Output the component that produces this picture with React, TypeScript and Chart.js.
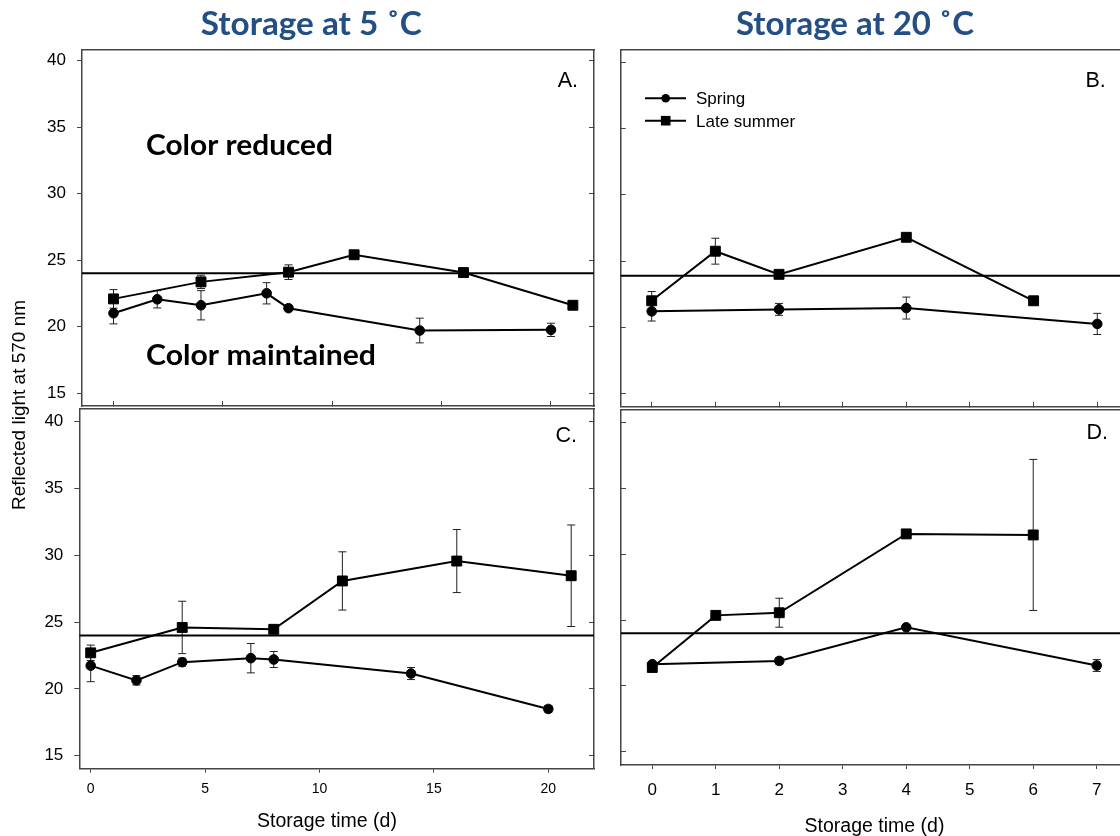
import React, { useEffect, useRef } from "react";
import { Chart, registerables } from "chart.js";

Chart.register(...registerables);

const SANS = "'Liberation Sans', Arial, Helvetica, sans-serif";
const HEAD = "Lato, 'Open Sans', 'Noto Sans', sans-serif";
const HEAD_COLOR = "#234F85";
const AXIS = "#444";

// ---------------- data ----------------
const seriesNames = ["Spring", "Late summer"];
const ticks5C = [0, 5, 10, 15, 20];
const ticks20C = [0, 1, 2, 3, 4, 5, 6, 7];
const yTickValues = [15, 20, 25, 30, 35, 40];
const refLevels = [24.0, 23.9, 24.0, 24.0]; // panels A, B, C, D

// A: storage at 5 C (top)
const aSpringDays = [0, 2, 4, 7, 8, 14, 20];
const aSpring = [21.0, 22.05, 21.6, 22.5, 21.38, 19.7, 19.75];
const aSpringErr = [0.8, 0.65, 1.1, 0.8, 0, 0.93, 0.5];
const aSummerDays = [0, 4, 8, 11, 16, 21];
const aSummer = [22.08, 23.36, 24.09, 25.4, 24.06, 21.6];
const aSummerErr = [0.7, 0.5, 0.55, 0, 0, 0];

// B: storage at 20 C (top)
const bSpringDays = [0, 2, 4, 7];
const bSpring = [21.2, 21.35, 21.45, 20.25];
const bSpringErr = [0.73, 0.45, 0.83, 0.8];
const bSummerDays = [0, 1, 2, 4, 6];
const bSummer = [22.0, 25.75, 24.0, 26.8, 22.0];
const bSummerErr = [0.7, 0.98, 0, 0, 0];

// C: storage at 5 C (bottom)
const cSpringDays = [0, 2, 4, 7, 8, 14, 20];
const cSpring = [21.74, 20.64, 22.0, 22.3, 22.2, 21.15, 18.5];
const cSpringErr = [1.2, 0.35, 0.3, 1.1, 0.6, 0.45, 0.25];
const cSummerDays = [0, 4, 8, 11, 16, 21];
const cSummer = [22.7, 24.6, 24.46, 28.08, 29.57, 28.47];
const cSummerErr = [0.58, 1.96, 0.2, 2.18, 2.36, 3.8];

// D: storage at 20 C (bottom)
const dSpringDays = [0, 2, 4, 7];
const dSpring = [21.65, 21.9, 24.45, 21.55];
const dSpringErr = [0, 0.25, 0.15, 0.45];
const dSummerDays = [0, 1, 2, 4, 6];
const dSummer = [21.4, 25.36, 25.56, 31.55, 31.47];
const dSummerErr = [0, 0, 1.1, 0, 5.74];

// ---------------- layout / specs ----------------
type Txt = {
  text: string;
  x: number;
  y: number;
  font: string;
  color?: string;
  align?: CanvasTextAlign;
  baseline?: CanvasTextBaseline;
  width?: number;
  rotate?: number;
};

type Series = { days: number[]; vals: number[]; errs: number[] };

type Spec = {
  key: string;
  series: Series[];
  ref: number;
  xRange: [number, number];
  yRange: [number, number];
  xTicks: number[];
  pad: { left: number; top: number; right: number; bottom: number };
  yW: number;
  xH: number;
  yLabels: boolean;
  xLabels: boolean;
  rightTicks: boolean;
  xFont: number;
  xPad: number;
  texts: Txt[];
  legend: boolean;
};

const CW = 1140;
const CH = 850;

const specs: Spec[] = [
  {
    key: "A",
    series: [
      { days: aSpringDays, vals: aSpring, errs: aSpringErr },
      { days: aSummerDays, vals: aSummer, errs: aSummerErr },
    ],
    ref: refLevels[0],
    xRange: [-1.44, 21.966],
    yRange: [14.022, 40.805],
    xTicks: ticks5C,
    pad: { left: 0, top: 50, right: CW - 594, bottom: CH - 406 },
    yW: 82,
    xH: 0,
    yLabels: true,
    xLabels: false,
    rightTicks: true,
    xFont: 0,
    xPad: 0,
    legend: false,
    texts: [
      { text: "Storage at 5 ˚C", x: 311.3, y: 35, font: `bold 32px ${HEAD}`, color: HEAD_COLOR, align: "center", width: 221 },
      { text: "Color reduced", x: 146, y: 155, font: `bold 28px ${HEAD}`, width: 187 },
      { text: "Color maintained", x: 146, y: 365, font: `bold 28px ${HEAD}`, width: 230 },
      { text: "A.", x: 578, y: 87, font: `21.5px ${SANS}`, align: "right" },
      { text: "Reflected light at 570 nm", x: 20, y: 405, font: `19px ${SANS}`, align: "center", baseline: "middle", rotate: -Math.PI / 2 },
    ],
  },
  {
    key: "B",
    series: [
      { days: bSpringDays, vals: bSpring, errs: bSpringErr },
      { days: bSummerDays, vals: bSummer, errs: bSummerErr },
    ],
    ref: refLevels[1],
    xRange: [-0.487, 7.42],
    yRange: [13.992, 40.962],
    xTicks: ticks20C,
    pad: { left: 620.7, top: 50, right: CW - 1124, bottom: CH - 406.7 },
    yW: 0,
    xH: 0,
    yLabels: false,
    xLabels: false,
    rightTicks: false,
    xFont: 0,
    xPad: 0,
    legend: true,
    texts: [
      { text: "Storage at 20 ˚C", x: 855, y: 35, font: `bold 32px ${HEAD}`, color: HEAD_COLOR, align: "center", width: 238 },
      { text: "B.", x: 1105.7, y: 87.3, font: `21.5px ${SANS}`, align: "right" },
    ],
  },
  {
    key: "C",
    series: [
      { days: cSpringDays, vals: cSpring, errs: cSpringErr },
      { days: cSummerDays, vals: cSummer, errs: cSummerErr },
    ],
    ref: refLevels[2],
    xRange: [-0.498, 21.997],
    yRange: [14.027, 40.973],
    xTicks: ticks5C,
    pad: { left: 0, top: 408.7, right: CW - 594, bottom: 0 },
    yW: 79.3,
    xH: CH - 768.7,
    yLabels: true,
    xLabels: true,
    rightTicks: true,
    xFont: 14,
    xPad: 7.9,
    legend: false,
    texts: [
      { text: "C.", x: 577, y: 442, font: `21.5px ${SANS}`, align: "right" },
      { text: "Storage time (d)", x: 327, y: 826.7, font: `19.5px ${SANS}`, align: "center" },
    ],
  },
  {
    key: "D",
    series: [
      { days: dSpringDays, vals: dSpring, errs: dSpringErr },
      { days: dSummerDays, vals: dSummer, errs: dSummerErr },
    ],
    ref: refLevels[3],
    xRange: [-0.493, 7.43],
    yRange: [13.99, 40.965],
    xTicks: ticks20C,
    pad: { left: 621, top: 410, right: CW - 1124, bottom: 0 },
    yW: 0,
    xH: CH - 765,
    yLabels: false,
    xLabels: true,
    rightTicks: false,
    xFont: 17,
    xPad: 11.1,
    legend: false,
    texts: [
      { text: "D.", x: 1108, y: 438.5, font: `21.5px ${SANS}`, align: "right" },
      { text: "Storage time (d)", x: 874.5, y: 832, font: `19.5px ${SANS}`, align: "center" },
    ],
  },
];

// ---------------- helpers ----------------
const fixW = (w: number) => (s: any) => {
  s.width = w;
  s.paddingTop = 0;
  s.paddingBottom = 0;
  s.paddingLeft = 0;
  s.paddingRight = 0;
};
const fixH = (h: number) => (s: any) => {
  s.height = h;
  s.paddingTop = 0;
  s.paddingBottom = 0;
  s.paddingLeft = 0;
  s.paddingRight = 0;
};
const setTicks = (vals: number[]) => (s: any) => {
  s.ticks = vals.map((v) => ({ value: v }));
};

function drawTxt(ctx: CanvasRenderingContext2D, t: Txt) {
  ctx.save();
  ctx.font = t.font;
  ctx.fillStyle = t.color || "#000";
  ctx.textBaseline = t.baseline || "alphabetic";
  ctx.textAlign = t.align || "left";
  ctx.translate(t.x, t.y);
  if (t.rotate) ctx.rotate(t.rotate);
  if (t.width) {
    const w = ctx.measureText(t.text).width;
    if (w > 0) ctx.scale(t.width / w, 1);
  }
  ctx.fillText(t.text, 0, 0);
  ctx.restore();
}

function drawMarker(ctx: CanvasRenderingContext2D, style: string, x: number, y: number, r: number) {
  ctx.beginPath();
  if (style === "rect") {
    const h = Math.SQRT1_2 * r;
    ctx.rect(x - h, y - h, 2 * h, 2 * h);
  } else {
    ctx.arc(x, y, r, 0, Math.PI * 2);
  }
  ctx.fill();
}

const POINT_STYLES = ["circle", "rect"];
const POINT_RADII = [4.8, 7];

function decorPlugin(spec: Spec) {
  return {
    id: "decor" + spec.key,
    beforeDatasetsDraw(chart: any) {
      const ctx: CanvasRenderingContext2D = chart.ctx;
      const ys = chart.scales.y;
      const a = chart.chartArea;
      ctx.save();
      ctx.beginPath();
      ctx.rect(a.left, a.top, a.right - a.left, a.bottom - a.top);
      ctx.clip();
      ctx.strokeStyle = "#222";
      ctx.lineWidth = 1;
      spec.series.forEach((s, di) => {
        const meta = chart.getDatasetMeta(di);
        meta.data.forEach((pt: any, j: number) => {
          const e = s.errs[j];
          if (!e) return;
          const top = ys.getPixelForValue(s.vals[j] + e);
          const bot = ys.getPixelForValue(s.vals[j] - e);
          const x = pt.x;
          ctx.beginPath();
          ctx.moveTo(x, top);
          ctx.lineTo(x, bot);
          ctx.moveTo(x - 4, top);
          ctx.lineTo(x + 4, top);
          ctx.moveTo(x - 4, bot);
          ctx.lineTo(x + 4, bot);
          ctx.stroke();
        });
      });
      ctx.restore();
    },
    afterDraw(chart: any) {
      const ctx: CanvasRenderingContext2D = chart.ctx;
      spec.texts.forEach((t) => drawTxt(ctx, t));
      if (spec.legend) {
        const rows = [98.3, 120.7];
        chart.data.datasets.slice(0, 2).forEach((ds: any, i: number) => {
          const y = rows[i];
          ctx.save();
          ctx.strokeStyle = "#000";
          ctx.fillStyle = "#000";
          ctx.lineWidth = 2;
          ctx.beginPath();
          ctx.moveTo(645, y);
          ctx.lineTo(686, y);
          ctx.stroke();
          drawMarker(ctx, POINT_STYLES[i], 665.7, y, i === 0 ? 4.3 : 6.8);
          ctx.restore();
          drawTxt(ctx, { text: ds.label, x: 696, y: y + 5.8, font: `17px ${SANS}` });
        });
      }
    },
  };
}

function buildConfig(spec: Spec): any {
  const [xMin, xMax] = spec.xRange;
  const [yMin, yMax] = spec.yRange;
  const datasets: any[] = spec.series.map((s, i) => ({
    label: seriesNames[i],
    data: s.days.map((d, j) => ({ x: d, y: s.vals[j] })),
    showLine: true,
    borderColor: "#000",
    backgroundColor: "#000",
    borderWidth: 2,
    pointStyle: POINT_STYLES[i],
    pointRadius: POINT_RADII[i],
    pointBackgroundColor: "#000",
    pointBorderColor: "#000",
    pointBorderWidth: 1,
    tension: 0,
  }));
  datasets.push({
    label: "reference",
    data: [
      { x: xMin, y: spec.ref },
      { x: xMax, y: spec.ref },
    ],
    showLine: true,
    borderColor: "#000",
    borderWidth: 2,
    pointRadius: 0,
  });

  const tickGrid = (len: number, show = true) => ({
    display: true,
    drawOnChartArea: false,
    drawTicks: show,
    tickLength: len,
    color: AXIS,
    lineWidth: 1,
  });
  const border = { display: true, color: AXIS, width: 1.5 };

  return {
    type: "scatter",
    data: { datasets },
    options: {
      responsive: false,
      maintainAspectRatio: false,
      animation: false,
      devicePixelRatio: 1,
      events: [],
      layout: { padding: spec.pad },
      plugins: {
        legend: { display: false },
        tooltip: { enabled: false },
        title: { display: false },
      },
      scales: {
        x: {
          type: "linear",
          position: "bottom",
          min: xMin,
          max: xMax,
          afterBuildTicks: setTicks(spec.xTicks),
          afterFit: fixH(spec.xH),
          grid: tickGrid(spec.xLabels ? 4 : -5),
          border,
          ticks: spec.xLabels
            ? {
                display: true,
                color: "#000",
                font: { family: SANS, size: spec.xFont },
                padding: spec.xPad,
                maxRotation: 0,
                autoSkip: false,
              }
            : { display: false },
        },
        x2: {
          type: "linear",
          position: "top",
          min: xMin,
          max: xMax,
          afterBuildTicks: setTicks(spec.xTicks),
          afterFit: fixH(0),
          grid: { display: true, drawOnChartArea: false, drawTicks: false, color: AXIS },
          border,
          ticks: { display: false },
        },
        y: {
          type: "linear",
          position: "left",
          min: yMin,
          max: yMax,
          afterBuildTicks: setTicks(yTickValues),
          afterFit: fixW(spec.yW),
          grid: tickGrid(spec.yLabels ? 5 : -5),
          border,
          ticks: spec.yLabels
            ? {
                display: true,
                color: "#000",
                font: { family: SANS, size: 17 },
                padding: 11,
                autoSkip: false,
              }
            : { display: false },
        },
        y2: {
          type: "linear",
          position: "right",
          min: yMin,
          max: yMax,
          afterBuildTicks: setTicks(yTickValues),
          afterFit: fixW(0),
          grid: tickGrid(-5, spec.rightTicks),
          border,
          ticks: { display: false },
        },
      },
    },
    plugins: [decorPlugin(spec)],
  };
}

function Panel({ spec }: { spec: Spec }) {
  const ref = useRef<HTMLCanvasElement>(null);
  useEffect(() => {
    if (!ref.current) return;
    const chart = new Chart(ref.current, buildConfig(spec));
    return () => chart.destroy();
  }, [spec]);
  return (
    <canvas
      ref={ref}
      width={CW}
      height={CH}
      style={{ position: "absolute", left: 0, top: 0, width: CW, height: CH }}
    />
  );
}

export default function App() {
  return (
    <div
      style={{
        position: "fixed",
        left: 0,
        top: 0,
        width: 1120,
        height: 836,
        overflow: "hidden",
        background: "#fff",
      }}
    >
      {specs.map((s) => (
        <Panel key={s.key} spec={s} />
      ))}
    </div>
  );
}
